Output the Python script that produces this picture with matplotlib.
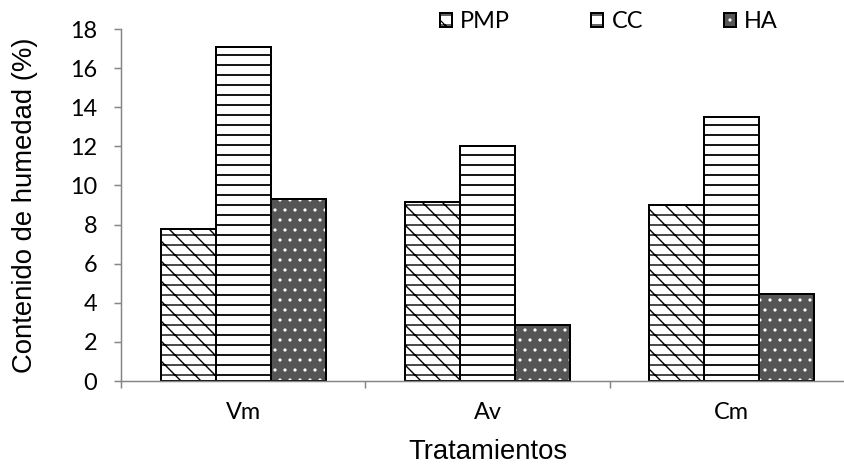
import matplotlib
matplotlib.use('Agg')
import matplotlib.pyplot as plt
from matplotlib.patches import Patch
from matplotlib.legend_handler import HandlerTuple
import numpy as np

categories = ['Vm', 'Av', 'Cm']
series = ['PMP', 'CC', 'HA']
pmp = [7.75, 9.15, 9.0]
cc = [17.1, 12.0, 13.5]
ha = [9.3, 2.85, 4.45]
yticks = [0, 2, 4, 6, 8, 10, 12, 14, 16, 18]

DPI = 60
PX = 72.0 / DPI  # points per pixel

fig = plt.figure(figsize=(844 / DPI, 465 / DPI), dpi=DPI)
ax = fig.add_axes([121 / 844, 1 - 381 / 465, (854 - 121) / 844, (381 - 29) / 465])

x = np.arange(len(categories))
w = 0.225
lw = 2 * PX
ha_face = '#555555'
pmp_hatch = '\\-'

# hatch linewidth is read when each patch is made
plt.rcParams['hatch.linewidth'] = 1.4 * PX
ax.bar(x - w, pmp, w, facecolor='white', edgecolor='black', hatch=pmp_hatch, linewidth=lw)
h_pmp = Patch(facecolor='white', edgecolor='black', hatch=pmp_hatch, linewidth=lw)

plt.rcParams['hatch.linewidth'] = 1.8 * PX
ax.bar(x, cc, w, facecolor='white', edgecolor='black', hatch='-', linewidth=lw)
h_cc = Patch(facecolor='white', edgecolor='black', hatch='-', linewidth=lw)

plt.rcParams['hatch.linewidth'] = 1.2 * PX
ax.bar(x + w, ha, w, facecolor=ha_face, edgecolor='white', hatch='.', linewidth=0)
ax.bar(x + w, ha, w, fill=False, edgecolor='black', linewidth=lw)
h_ha = (Patch(facecolor=ha_face, edgecolor='white', hatch='.', linewidth=0),
        Patch(fill=False, edgecolor='black', linewidth=lw))

ax.set_xlim(-0.5, 2.5)
ax.set_ylim(0, 18)
ax.set_yticks(yticks)
ax.set_xticks(x)
ax.set_xticklabels(categories)
ax.set_xticks([-0.5, 0.5, 1.5, 2.5], minor=True)

for s in ['top', 'right']:
    ax.spines[s].set_visible(False)
for s in ['left', 'bottom']:
    ax.spines[s].set_color('#868686')
    ax.spines[s].set_linewidth(1.5 * PX)

ax.tick_params(axis='x', which='major', length=0, pad=21 * PX)
ax.tick_params(axis='x', which='minor', length=7 * PX, width=1.5 * PX, color='#868686')
ax.tick_params(axis='y', length=7 * PX, width=1.5 * PX, color='#868686', pad=17 * PX)

tick_size = 23.5 * PX
for lab in ax.get_xticklabels() + ax.get_yticklabels():
    lab.set_family('Lato')
    lab.set_fontsize(tick_size)

label_size = 27.5 * PX
ax.set_ylabel('Contenido de humedad (%)', family='Liberation Sans', fontsize=label_size, va='center')
ax.yaxis.set_label_coords((25 - 121) / 733, 0.5)
ax.set_xlabel('Tratamientos', family='Liberation Sans', fontsize=label_size, va='center')
ax.xaxis.set_label_coords(0.5, (381 - 452) / 352.0)

fig.legend([h_pmp, h_cc, h_ha], series, loc='center left', bbox_to_anchor=(440 / 844, 1 - 22 / 465),
           ncol=3, frameon=False, prop={'family': 'Lato', 'size': tick_size},
           handlelength=12 / 23.5, handleheight=12 / 23.5, handletextpad=0.35,
           columnspacing=3.45, borderpad=0, borderaxespad=0,
           handler_map={tuple: HandlerTuple(ndivide=1, pad=0)})

fig.savefig('out.png', dpi=DPI)
